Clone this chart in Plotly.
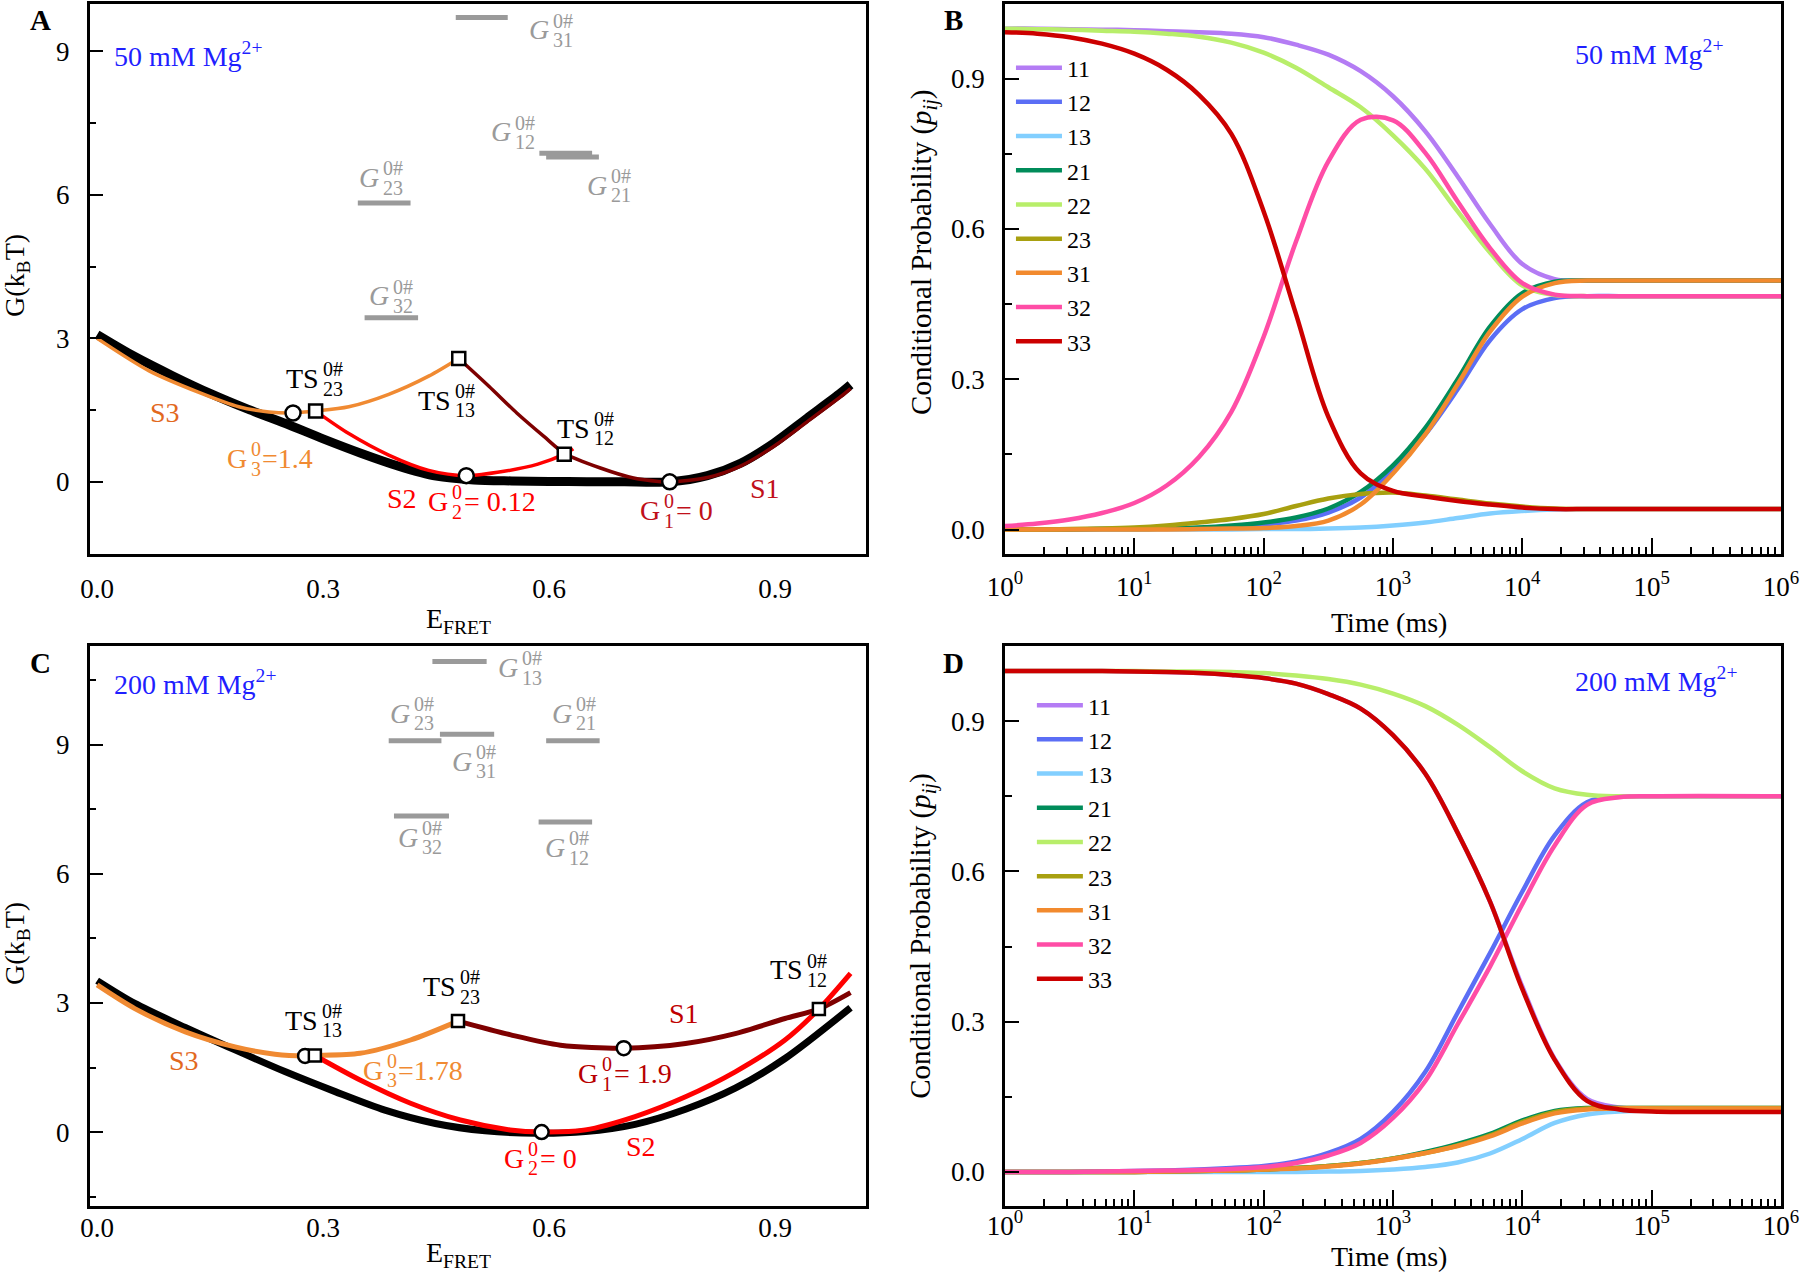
import numpy as np
import plotly.graph_objects as go

SERIF = "Liberation Serif"

# ---------------- panel A : 50 mM Mg2+ free-energy profiles ----------------
a_env_x = [0, 0.05, 0.1, 0.15, 0.2, 0.25, 0.3, 0.35, 0.4, 0.45, 0.5, 0.55, 0.6, 0.65, 0.7, 0.76,
           0.81, 0.854, 0.898, 0.942, 0.987, 1.0]
a_env_g = [3.08, 2.62, 2.22, 1.85, 1.52, 1.22, 0.9, 0.6, 0.33, 0.12, 0.04, 0.02, 0.01, 0.005, 0.0, 0.0,
           0.13, 0.39, 0.81, 1.33, 1.86, 2.03]
a_s3_x = [0, 0.069, 0.135, 0.188, 0.228, 0.26, 0.29, 0.334, 0.387, 0.44, 0.48]
a_s3_g = [3.0, 2.32, 1.87, 1.57, 1.46, 1.44, 1.48, 1.57, 1.83, 2.21, 2.58]
a_s2_x = [0.29, 0.334, 0.387, 0.44, 0.49, 0.54, 0.585, 0.62, 0.632]
a_s2_g = [1.48, 1.01, 0.56, 0.24, 0.13, 0.22, 0.37, 0.58, 0.69]
a_s1_x = [0.48, 0.52, 0.557, 0.593, 0.62, 0.668, 0.712, 0.745, 0.76, 0.81, 0.854, 0.898, 0.942, 0.987, 1.0]
a_s1_g = [2.58, 2.0, 1.44, 0.95, 0.6, 0.29, 0.08, 0.01, 0.0, 0.09, 0.33, 0.74, 1.25, 1.78, 1.95]
a_min_x = [0.26, 0.49, 0.76]
a_min_g = [1.44, 0.13, 0.0]
a_ts_x = [0.29, 0.48, 0.62]
a_ts_g = [1.48, 2.58, 0.58]
# barrier levels G0#_ij (31, 12, 21, 23, 32): x extent and height
a_bar_x0 = [0.476, 0.587, 0.596, 0.346, 0.355]
a_bar_x1 = [0.545, 0.657, 0.666, 0.416, 0.426]
a_bar_g = [9.71, 6.87, 6.79, 5.83, 3.43]

# ---------------- panel C : 200 mM Mg2+ free-energy profiles ----------------
c_env_x = [0, 0.05, 0.117, 0.183, 0.25, 0.316, 0.382, 0.449, 0.515, 0.582, 0.648, 0.714, 0.781, 0.847, 0.913, 1.0]
c_env_g = [3.52, 2.99, 2.43, 1.91, 1.4, 0.94, 0.51, 0.2, 0.03, -0.03, 0.01, 0.18, 0.53, 1.02, 1.71, 2.89]
c_s3_x = [0, 0.05, 0.117, 0.183, 0.236, 0.276, 0.289, 0.349, 0.416, 0.479]
c_s3_g = [3.42, 2.87, 2.33, 1.98, 1.81, 1.77, 1.78, 1.83, 2.14, 2.58]
c_s1_x = [0.479, 0.549, 0.615, 0.699, 0.781, 0.847, 0.913, 0.958, 1.0]
c_s1_g = [2.58, 2.26, 2.02, 1.95, 2.06, 2.29, 2.64, 2.86, 3.24]
c_s2_x = [0.289, 0.349, 0.416, 0.482, 0.548, 0.59, 0.648, 0.714, 0.781, 0.847, 0.913, 0.958, 1.0]
c_s2_g = [1.78, 1.21, 0.67, 0.28, 0.05, 0.0, 0.05, 0.36, 0.82, 1.4, 2.14, 2.86, 3.69]
c_min_x = [0.276, 0.59, 0.699]
c_min_g = [1.77, 0.0, 1.95]
c_ts_x = [0.289, 0.479, 0.958]
c_ts_g = [1.78, 2.58, 2.86]
# barrier levels (13, 23, 31, 21, 32, 12)
c_bar_x0 = [0.445, 0.387, 0.455, 0.596, 0.394, 0.586]
c_bar_x1 = [0.517, 0.457, 0.527, 0.667, 0.467, 0.657]
c_bar_g = [10.94, 9.1, 9.25, 9.1, 7.35, 7.21]

# ---------------- panels B / D : conditional probabilities p_ij(t) ----------------
log_t = [0, 0.25, 0.5, 0.75, 1.0, 1.25, 1.5, 1.75, 2.0, 2.25, 2.5, 2.75, 3.0, 3.25, 3.5, 3.75,
         4.0, 4.25, 4.5, 4.75, 5.0, 6.0]

b_p11 = [1.0, 1.0, 0.999, 0.998, 0.997, 0.995, 0.993, 0.99, 0.983, 0.968, 0.948, 0.915, 0.865, 0.795, 0.705, 0.61, 0.53, 0.5, 0.497, 0.497, 0.497, 0.497]
b_p12 = [0.0, 0.0, 0.0, 0.001, 0.001, 0.002, 0.003, 0.006, 0.01, 0.018, 0.034, 0.064, 0.118, 0.19, 0.28, 0.378, 0.44, 0.462, 0.466, 0.466, 0.466, 0.466]
b_p13 = [0.0, 0.0, 0.0, 0.0, 0.0, 0.0, 0.0, 0.0, 0.001, 0.001, 0.002, 0.004, 0.008, 0.014, 0.023, 0.032, 0.037, 0.04, 0.041, 0.041, 0.041, 0.041]
b_p21 = [0.0, 0.0, 0.0, 0.001, 0.001, 0.002, 0.004, 0.008, 0.014, 0.024, 0.042, 0.075, 0.128, 0.203, 0.3, 0.405, 0.472, 0.495, 0.497, 0.497, 0.497, 0.497]
b_p22 = [1.0, 0.999, 0.998, 0.996, 0.994, 0.99, 0.984, 0.972, 0.952, 0.922, 0.883, 0.843, 0.787, 0.72, 0.635, 0.553, 0.487, 0.468, 0.466, 0.466, 0.466, 0.466]
b_p23 = [0.0, 0.0, 0.001, 0.002, 0.004, 0.008, 0.014, 0.021, 0.031, 0.047, 0.062, 0.071, 0.074, 0.068, 0.06, 0.052, 0.046, 0.042, 0.041, 0.041, 0.041, 0.041]
b_p31 = [0.0, 0.0, 0.0, 0.0, 0.0, 0.0, 0.001, 0.002, 0.003, 0.007, 0.018, 0.05, 0.112, 0.19, 0.29, 0.395, 0.465, 0.492, 0.497, 0.497, 0.497, 0.497]
b_p32 = [0.007, 0.012, 0.02, 0.033, 0.053, 0.088, 0.145, 0.235, 0.385, 0.575, 0.735, 0.818, 0.817, 0.752, 0.655, 0.562, 0.492, 0.469, 0.466, 0.466, 0.466, 0.466]
b_p33 = [0.993, 0.99, 0.983, 0.97, 0.95, 0.918, 0.868, 0.79, 0.635, 0.43, 0.225, 0.112, 0.077, 0.066, 0.057, 0.05, 0.044, 0.041, 0.041, 0.041, 0.041, 0.041]

d_p11 = [1.0, 1.0, 1.0, 1.0, 0.999, 0.998, 0.996, 0.992, 0.986, 0.975, 0.954, 0.925, 0.872, 0.795, 0.677, 0.54, 0.37, 0.226, 0.146, 0.129, 0.126, 0.126]
d_p12 = [0.0, 0.0, 0.0, 0.001, 0.002, 0.003, 0.005, 0.008, 0.012, 0.021, 0.038, 0.066, 0.12, 0.2, 0.318, 0.437, 0.56, 0.672, 0.738, 0.749, 0.75, 0.75]
d_p13 = [0.0, 0.0, 0.0, 0.0, 0.0, 0.0, 0.0, 0.0, 0.0, 0.0, 0.001, 0.002, 0.005, 0.01, 0.019, 0.037, 0.066, 0.098, 0.115, 0.121, 0.123, 0.124]
d_p21 = [0.0, 0.0, 0.0, 0.0, 0.0, 0.001, 0.002, 0.003, 0.005, 0.008, 0.012, 0.018, 0.027, 0.04, 0.056, 0.076, 0.103, 0.122, 0.128, 0.128, 0.128, 0.128]
d_p22 = [1.0, 1.0, 1.0, 1.0, 1.0, 0.999, 0.999, 0.998, 0.996, 0.991, 0.984, 0.973, 0.955, 0.93, 0.893, 0.848, 0.8, 0.766, 0.753, 0.75, 0.75, 0.75]
d_p23 = [0.0, 0.0, 0.0, 0.0, 0.0, 0.001, 0.002, 0.003, 0.005, 0.008, 0.012, 0.018, 0.027, 0.038, 0.053, 0.073, 0.1, 0.12, 0.127, 0.128, 0.128, 0.128]
d_p31 = [0.0, 0.0, 0.0, 0.0, 0.0, 0.001, 0.002, 0.003, 0.005, 0.007, 0.011, 0.017, 0.026, 0.038, 0.052, 0.071, 0.097, 0.117, 0.125, 0.127, 0.127, 0.127]
d_p32 = [0.0, 0.0, 0.0, 0.001, 0.002, 0.003, 0.004, 0.006, 0.01, 0.018, 0.033, 0.058, 0.108, 0.182, 0.295, 0.41, 0.535, 0.652, 0.733, 0.748, 0.75, 0.75]
d_p33 = [1.0, 1.0, 1.0, 1.0, 0.999, 0.998, 0.996, 0.992, 0.986, 0.975, 0.954, 0.925, 0.872, 0.795, 0.677, 0.54, 0.365, 0.224, 0.142, 0.125, 0.121, 0.12]

pair_names = ['11', '12', '13', '21', '22', '23', '31', '32', '33']
pair_colors = ['#B47CF4', '#5B6EF5', '#82CFFF', '#008C5A', '#B8EE6A', '#A8A010', '#F28A2E', '#FF4DA6', '#CC0000']

BLACK = '#000000'
S1_LINE = '#7E0000'
S2_LINE = '#FF0000'
S3_LINE = '#F08A32'
GRAY = '#9A9A9A'
BLUE = '#1F1FFF'

fig = go.Figure()


def curve(x, y, color, width, xa, ya):
    fig.add_trace(go.Scatter(x=x, y=y, mode='lines', xaxis=xa, yaxis=ya, showlegend=False, hoverinfo='skip',
                             line=dict(color=color, width=width, shape='spline', smoothing=0.8)))


def bars(x0, x1, g, xa, ya):
    xs, ys = [], []
    for a, b, y in zip(x0, x1, g):
        xs += [a, b, None]
        ys += [y, y, None]
    fig.add_trace(go.Scatter(x=xs, y=ys, mode='lines', xaxis=xa, yaxis=ya, showlegend=False, hoverinfo='skip',
                             line=dict(color=GRAY, width=5)))


def points(x, y, symbol, size, xa, ya):
    fig.add_trace(go.Scatter(x=x, y=y, mode='markers', xaxis=xa, yaxis=ya, showlegend=False, hoverinfo='skip',
                             marker=dict(symbol=symbol, size=size, color='white',
                                         line=dict(color='black', width=2.5))))


def stacked(xa, ya, x, y, base, sup, sub, color, size, tail='', italic=False):
    # base text with a superscript stacked over a subscript
    small = round(size * 0.72)
    kw = dict(xref=xa, yref=ya, x=x, y=y, showarrow=False, yanchor='middle')
    fig.add_annotation(text=f'<i>{base}</i>' if italic else base, xanchor='right',
                       font=dict(family=SERIF, size=size, color=color), **kw)
    fig.add_annotation(text=sup, xanchor='left', yshift=0.33 * size,
                       font=dict(family=SERIF, size=small, color=color), **kw)
    fig.add_annotation(text=sub, xanchor='left', yshift=-0.36 * size,
                       font=dict(family=SERIF, size=small, color=color), **kw)
    if tail:
        w = 0.52 * small * max(len(sup), len(sub)) + 1
        fig.add_annotation(text=tail, xanchor='left', xshift=w,
                           font=dict(family=SERIF, size=size, color=color), **kw)


def text(xa, ya, x, y, s, color, size=27, **extra):
    opts = dict(xanchor='center', yanchor='middle')
    opts.update(extra)
    fig.add_annotation(xref=xa, yref=ya, x=x, y=y, text=s, showarrow=False,
                       font=dict(family=SERIF, size=size, color=color), **opts)


# ---- panel A ----
bars(a_bar_x0, a_bar_x1, a_bar_g, 'x', 'y')
curve(a_env_x, a_env_g, BLACK, 9, 'x', 'y')
curve(a_s3_x, a_s3_g, S3_LINE, 3.5, 'x', 'y')
curve(a_s2_x, a_s2_g, S2_LINE, 3.5, 'x', 'y')
curve(a_s1_x, a_s1_g, S1_LINE, 3.5, 'x', 'y')
points(a_min_x, a_min_g, 'circle', 15, 'x', 'y')
points(a_ts_x, a_ts_g, 'square', 13, 'x', 'y')

for x, y, ij in [(0.603, 9.45, '31'), (0.552, 7.32, '12'), (0.679, 6.2, '21'), (0.377, 6.36, '23'), (0.39, 3.89, '32')]:
    stacked('x', 'y', x, y, 'G', '0#', ij, GRAY, 28, italic=True)
for x, y, ij in [(0.297, 2.16, '23'), (0.472, 1.71, '13'), (0.657, 1.12, '12')]:
    stacked('x', 'y', x, y, 'TS', '0#', ij, 'black', 28)
stacked('x', 'y', 0.2015, 0.49, 'G', '0', '3', '#F08A32', 28, tail='=1.4')
stacked('x', 'y', 0.469, -0.41, 'G', '0', '2', '#FF0000', 28, tail='= 0.12')
stacked('x', 'y', 0.75, -0.6, 'G', '0', '1', '#C0101A', 28, tail='= 0')
text('x', 'y', 0.09, 1.46, 'S3', '#E2691E', 28)
text('x', 'y', 0.404, -0.34, 'S2', '#FF0000', 28)
text('x', 'y', 0.887, -0.13, 'S1', '#C0101A', 28)

# ---- panel C ----
bars(c_bar_x0, c_bar_x1, c_bar_g, 'x3', 'y3')
curve(c_env_x, c_env_g, BLACK, 7, 'x3', 'y3')
curve(c_s3_x, c_s3_g, S3_LINE, 5, 'x3', 'y3')
curve(c_s1_x, c_s1_g, S1_LINE, 5, 'x3', 'y3')
curve(c_s2_x, c_s2_g, S2_LINE, 5, 'x3', 'y3')
points(c_min_x, c_min_g, 'circle', 14, 'x3', 'y3')
points(c_ts_x, c_ts_g, 'square', 12, 'x3', 'y3')

for x, y, ij in [(0.5616, 10.8, '13'), (0.418, 9.74, '23'), (0.5008, 8.62, '31'), (0.633, 9.74, '21'),
                 (0.428, 6.85, '32'), (0.623, 6.61, '12')]:
    stacked('x3', 'y3', x, y, 'G', '0#', ij, GRAY, 28, italic=True)
for x, y, ij in [(0.296, 2.6, '13'), (0.479, 3.38, '23'), (0.94, 3.77, '12')]:
    stacked('x3', 'y3', x, y, 'TS', '0#', ij, 'black', 28)
stacked('x3', 'y3', 0.382, 1.44, 'G', '0', '3', '#F08A32', 28, tail='=1.78')
stacked('x3', 'y3', 0.668, 1.36, 'G', '0', '1', '#B80000', 28, tail='= 1.9')
stacked('x3', 'y3', 0.5697, -0.61, 'G', '0', '2', '#FF0000', 28, tail='= 0')
text('x3', 'y3', 0.1155, 1.67, 'S3', '#E2691E', 28)
text('x3', 'y3', 0.779, 2.76, 'S1', '#C00000', 28)
text('x3', 'y3', 0.7224, -0.34, 'S2', '#FF0000', 28)

# ---- panels B and D ----
t_ms = 10 ** np.array(log_t)
b_series = [b_p11, b_p12, b_p13, b_p21, b_p22, b_p23, b_p31, b_p32, b_p33]
d_series = [d_p11, d_p12, d_p13, d_p21, d_p22, d_p23, d_p31, d_p32, d_p33]
for series, xa, ya, leg in [(b_series, 'x2', 'y2', 'legend'), (d_series, 'x4', 'y4', 'legend2')]:
    for name, color, p in zip(pair_names, pair_colors, series):
        fig.add_trace(go.Scatter(x=t_ms, y=p, mode='lines', name=name, legend=leg, xaxis=xa, yaxis=ya,
                                 line=dict(color=color, width=4.5, shape='spline', smoothing=1.0)))

# ---- panel letters, conditions, axis titles (paper coords) ----
for x, y, s in [(0.0222, 0.9843, 'A'), (0.5283, 0.9843, 'B'), (0.0222, 0.4804, 'C'), (0.5288, 0.4804, 'D')]:
    text('paper', 'paper', x, y, f'<b>{s}</b>', 'black', 29)
for x, y, s in [(0.0621, 0.9569, '50'), (0.872, 0.9585, '50'), (0.0621, 0.4655, '200'), (0.872, 0.4671, '200')]:
    text('paper', 'paper', x, y, f'{s} mM Mg<sup>2+</sup>', BLUE, 28, xanchor='left')
for y in [0.7845, 0.261]:
    text('paper', 'paper', 0.0094, y, 'G(k<sub>B</sub>T)', 'black', 28, textangle=-90)
for y in [0.8025, 0.2665]:
    text('paper', 'paper', 0.5116, y, 'Conditional Probability (<i>p<sub>ij</sub></i>)', 'black', 29, textangle=-90)
text('paper', 'paper', 0.2539, 0.5141, 'E<sub>FRET</sub>', 'black', 28)
text('paper', 'paper', 0.2539, 0.0172, 'E<sub>FRET</sub>', 'black', 28)
text('paper', 'paper', 0.770, 0.5125, 'Time (ms)', 'black', 28)
text('paper', 'paper', 0.770, 0.0150, 'Time (ms)', 'black', 28)

# ---- axes ----
frame = dict(showline=True, linewidth=2.5, linecolor='black', mirror=True, showgrid=False, zeroline=False,
             tickfont=dict(family=SERIF, size=27, color='black'), tickcolor='black', tickwidth=2,
             ticklabelstandoff=12, automargin=False)
top_dom, bot_dom = [0.56614, 0.99718], [0.05517, 0.49373]
left_dom, right_dom = [0.04967, 0.47982], [0.55710, 0.98725]


def efret_axis(anchor, standoff):
    return dict(frame, domain=left_dom, anchor=anchor, range=[-0.01, 1.02], dtick=0.3, tick0=0,
                tickformat='.1f', ticks='', ticklabelstandoff=standoff)


def energy_axis(anchor, dom, rng):
    return dict(frame, domain=dom, anchor=anchor, range=rng, dtick=3, tick0=0, ticks='inside', ticklen=14,
                minor=dict(dtick=1.5, tick0=0, ticks='inside', ticklen=7, tickwidth=2, tickcolor='black'))


decades = [1, 10, 100, 1000, 1e4, 1e5, 1e6]
minor_t = [m * 10 ** k for k in range(6) for m in range(2, 10)]


def time_axis(anchor, standoff):
    return dict(frame, domain=right_dom, anchor=anchor, type='log', range=[0, 6], tickmode='array',
                tickvals=decades, ticktext=[f'10<sup>{k}</sup>' for k in range(7)], ticks='inside', ticklen=16,
                ticklabelstandoff=standoff,
                minor=dict(tickmode='array', tickvals=minor_t, ticks='inside', ticklen=7, tickwidth=2,
                           tickcolor='black'))


def prob_axis(anchor, dom, rng):
    return dict(frame, domain=dom, anchor=anchor, range=rng, dtick=0.3, tick0=0, tickformat='.1f',
                ticks='inside', ticklen=14,
                minor=dict(dtick=0.15, tick0=0, ticks='inside', ticklen=7, tickwidth=2, tickcolor='black'))


legend_style = dict(xanchor='left', yanchor='top', bgcolor='rgba(0,0,0,0)', itemwidth=46,
                    font=dict(family=SERIF, size=24, color='black'))

fig.update_layout(
    width=1804, height=1276, margin=dict(l=0, r=0, t=0, b=0, autoexpand=False),
    paper_bgcolor='white', plot_bgcolor='white',
    xaxis=efret_axis('y', 9), yaxis=energy_axis('x', top_dom, [-1.5, 10.0]),
    xaxis2=time_axis('y2', 7), yaxis2=prob_axis('x2', top_dom, [-0.048, 1.05]),
    xaxis3=efret_axis('y3', -4), yaxis3=energy_axis('x3', bot_dom, [-1.71, 11.3]),
    xaxis4=time_axis('y4', -6), yaxis4=prob_axis('x4', bot_dom, [-0.067, 1.05]),
    legend=dict(legend_style, x=0.5604, y=0.9643),
    legend2=dict(legend_style, x=0.572, y=0.4647),
)

# the page body has a default 8px margin; drop it so the figure sits at the window corner
fig.write_html("out.html", config={'displayModeBar': False},
               post_script="document.body.style.margin = '0';")
